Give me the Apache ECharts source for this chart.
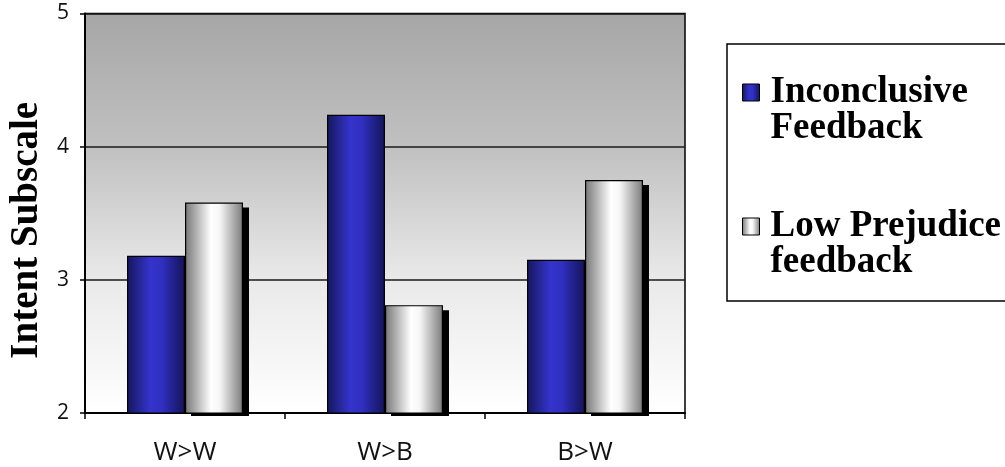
<!DOCTYPE html>
<html>
<head>
<meta charset="utf-8">
<script src="https://cdn.jsdelivr.net/npm/echarts@6/dist/echarts.min.js"></script>
<style>
  html, body { margin: 0; padding: 0; background: #ffffff; }
  #chart { width: 1005px; height: 467px; }
</style>
</head>
<body>
<div id="chart"></div>
<script>
// Pairings of evaluator > target
const categories = ['W>W', 'W>B', 'B>W'];
// Mean intent subscale scores per feedback condition
const inconclusiveFeedback = [3.18, 4.24, 3.15];
const lowPrejudiceFeedback = [3.58, 2.81, 3.75];
const seriesNames = ['Inconclusive\nFeedback', 'Low Prejudice\nfeedback'];
const yTicks = { min: 2, max: 5, step: 1 };

const chart = echarts.init(document.getElementById('chart'), null, { renderer: 'canvas' });

const blueFill = new echarts.graphic.LinearGradient(0, 0, 1, 0, [
  { offset: 0, color: '#16165c' },
  { offset: 0.4, color: '#3434cc' },
  { offset: 0.6, color: '#3030c2' },
  { offset: 1, color: '#131356' }
]);
const silverFill = new echarts.graphic.LinearGradient(0, 0, 1, 0, [
  { offset: 0, color: '#767676' },
  { offset: 0.45, color: '#ffffff' },
  { offset: 0.6, color: '#f6f6f6' },
  { offset: 1, color: '#7a7a7a' }
]);
const plotBg = new echarts.graphic.LinearGradient(0, 0, 0, 1, [
  { offset: 0, color: '#a6a6a6' },
  { offset: 0.35, color: '#c2c2c2' },
  { offset: 0.66, color: '#e9e9e9' },
  { offset: 1, color: '#ffffff' }
]);

const serifBold = { fontFamily: 'Liberation Serif', fontWeight: 'bold', color: '#000' };
const BAR_FRACTION = 0.29;   // each bar's share of a category band
const SHADOW_DX = 6, SHADOW_DY = 5;

// Solid drop shadow behind the silver bars, placed from the same value scale
function renderShadow(params, api) {
  const idx = api.value(0);
  const top = api.coord([idx, api.value(1)]);
  const base = api.coord([idx, yTicks.min]);
  const band = api.size([1, 0])[0];
  const w = band * BAR_FRACTION;
  return {
    type: 'rect',
    shape: { x: top[0] + SHADOW_DX, y: top[1] + SHADOW_DY, width: w, height: base[1] - top[1] - SHADOW_DY + 3 },
    style: { fill: '#000' }
  };
}

chart.setOption({
  animation: false,
  backgroundColor: '#ffffff',
  grid: {
    left: 85, right: 320, top: 13.5, bottom: 54,
    containLabel: false,
    outerBoundsMode: 'none',
    show: true,
    backgroundColor: plotBg,
    borderColor: '#000',
    borderWidth: 1.5
  },
  graphic: [{
    type: 'rect',
    shape: { x: 727, y: 44, width: 300, height: 257 },
    style: { fill: '#fff', stroke: '#000', lineWidth: 1.5 },
    z: 0
  }],
  legend: {
    orient: 'vertical',
    left: 742,
    top: 38,
    padding: 0,
    icon: 'rect',
    itemWidth: 17,
    itemHeight: 17,
    itemGap: 25,
    selectedMode: false,
    data: seriesNames,
    formatter: name => '\n' + name,
    itemStyle: { borderColor: '#000', borderWidth: 1 },
    textStyle: Object.assign({ fontSize: 37, lineHeight: 36, padding: [0, 0, 0, 6] }, serifBold),
    z: 5
  },
  xAxis: {
    type: 'category',
    data: categories,
    axisLine: { lineStyle: { color: '#000', width: 2 } },
    axisTick: { show: true, length: 6, inside: false, lineStyle: { color: '#000', width: 1.5 } },
    axisLabel: { fontFamily: 'Open Sans', fontSize: 26, color: '#111', margin: 27 }
  },
  yAxis: {
    type: 'value',
    min: yTicks.min,
    max: yTicks.max,
    interval: yTicks.step,
    name: 'Intent Subscale',
    nameLocation: 'middle',
    nameRotate: 90,
    nameGap: 33,
    nameTextStyle: Object.assign({ fontSize: 39, padding: [0, 34, 0, 0] }, serifBold),
    axisLine: { show: true, lineStyle: { color: '#000', width: 2 } },
    axisTick: { show: true, length: 5, lineStyle: { color: '#000', width: 1.5 } },
    axisLabel: { fontFamily: 'Open Sans', fontSize: 21, color: '#111', margin: 16 },
    splitLine: { show: true, lineStyle: { color: '#1a1a1a', width: 1.5 } }
  },
  series: [
    {
      name: seriesNames[0],
      type: 'bar',
      data: inconclusiveFeedback,
      barGap: '0%',
      barCategoryGap: '42%',
      itemStyle: { color: blueFill, borderColor: '#000', borderWidth: 1.2 },
      z: 3
    },
    {
      name: seriesNames[1],
      type: 'bar',
      data: lowPrejudiceFeedback,
      barGap: '0%',
      barCategoryGap: '42%',
      itemStyle: { color: silverFill, borderColor: '#000', borderWidth: 1.2 },
      z: 3
    },
    {
      name: 'shadow',
      type: 'custom',
      renderItem: renderShadow,
      data: lowPrejudiceFeedback.map((v, i) => [i, v]),
      encode: { x: 0, y: 1 },
      silent: true,
      z: 2
    }
  ]
});
</script>
</body>
</html>
